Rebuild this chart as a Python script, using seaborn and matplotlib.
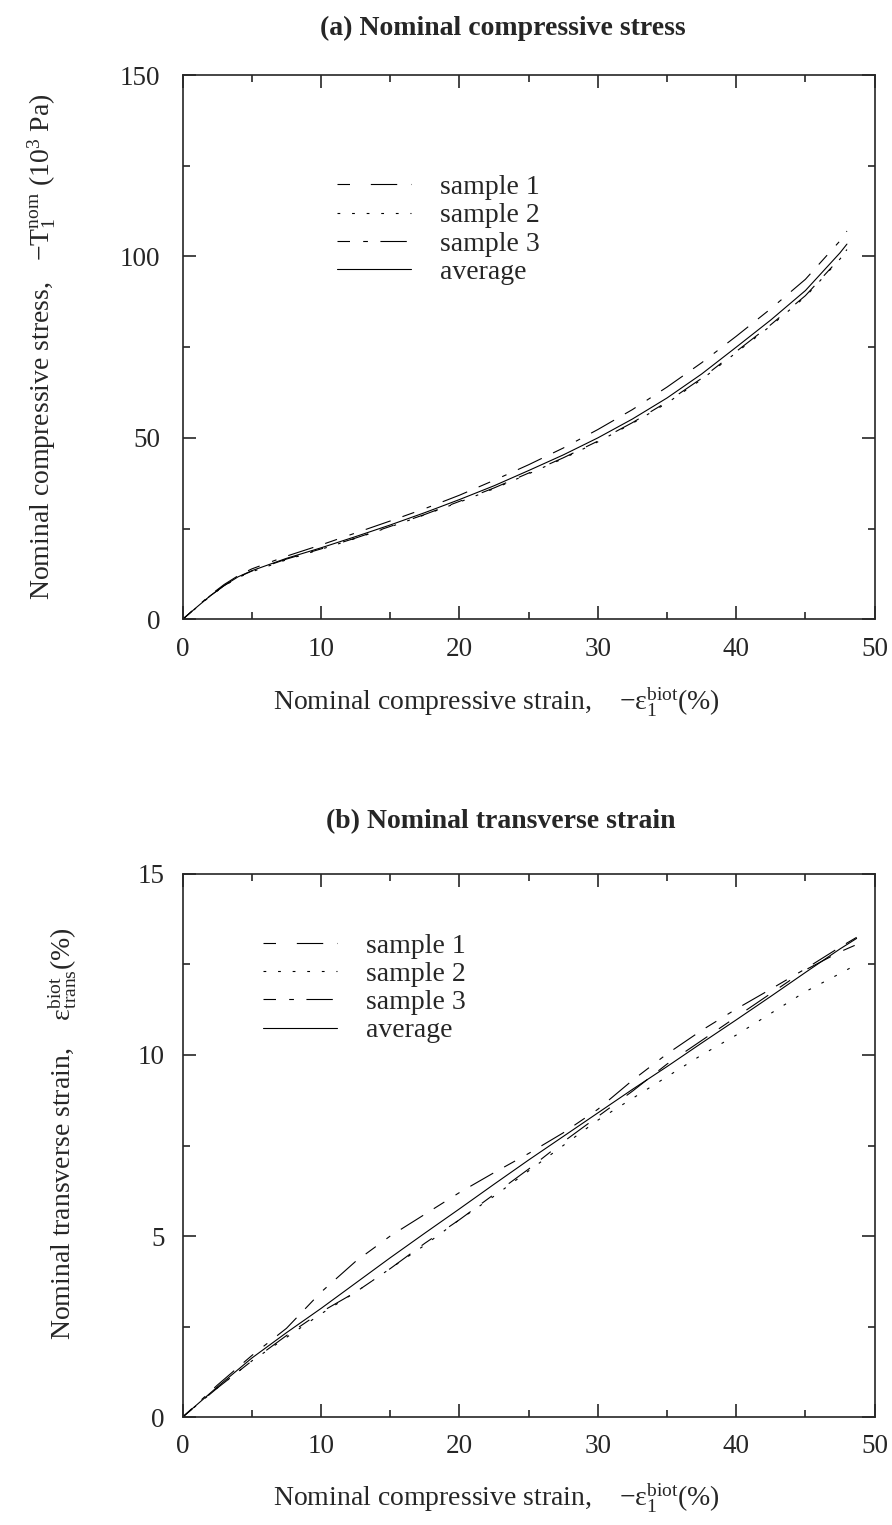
import numpy as np
import pandas as pd
import seaborn as sns
import matplotlib
matplotlib.use("Agg")
import matplotlib.pyplot as plt
from matplotlib.ticker import MultipleLocator

# (a) nominal compressive stress vs strain
strain_a = [0, 1, 2, 3, 4, 5, 7.5, 10, 12.5, 15, 17.5, 20, 22.5, 25, 27.5, 30,
            32.5, 35, 37.5, 40, 42.5, 45, 47.5, 48]
stress_s1 = [0, 3.3, 6.5, 9.3, 11.6, 13.3, 16.6, 19.4, 22.4, 25.6, 28.9, 32.5, 36.2,
             40.3, 44.5, 49.1, 54.2, 59.9, 66.4, 73.8, 81.2, 89.2, 99.5, 101.9]
stress_s2 = [0, 3.2, 6.4, 9.2, 11.5, 13.1, 16.4, 19.3, 22.3, 25.5, 28.8, 32.3, 36.0,
             40.1, 44.3, 48.9, 54.0, 59.6, 66.1, 73.5, 80.9, 88.9, 99.3, 101.7]
stress_s3 = [0, 3.4, 6.7, 9.6, 12.0, 13.9, 17.4, 20.5, 23.8, 27.1, 30.5, 34.2, 38.3,
             42.6, 47.2, 52.3, 57.8, 64.0, 70.7, 78.0, 85.6, 93.7, 104.3, 107.0]
stress_avg = [0, 3.3, 6.5, 9.3, 11.7, 13.4, 16.8, 19.7, 22.8, 26.0, 29.4, 33.0, 36.8,
              41.0, 45.3, 50.0, 55.2, 61.0, 67.6, 75.0, 82.5, 90.6, 101.0, 103.4]

# (b) nominal transverse strain vs compressive strain
strain_b = [0, 2.5, 5, 7.5, 10, 12.5, 15, 17.5, 20, 22.5, 25, 27.5, 30, 32.5, 35,
            37.5, 40, 42.5, 45, 47.5, 48.7]
trans_s1 = [0, 0.8, 1.55, 2.25, 2.9, 3.45, 4.1, 4.8, 5.45, 6.15, 6.85, 7.6, 8.3, 9.0,
            9.75, 10.4, 11.05, 11.7, 12.35, 12.85, 13.05]
trans_s2 = [0, 0.8, 1.55, 2.2, 2.85, 3.45, 4.1, 4.75, 5.45, 6.1, 6.8, 7.5, 8.2, 8.8,
            9.4, 10.0, 10.55, 11.15, 11.75, 12.25, 12.5]
trans_s3 = [0, 0.88, 1.7, 2.45, 3.45, 4.3, 5.0, 5.6, 6.2, 6.75, 7.28, 7.85, 8.5,
            9.3, 10.03, 10.68, 11.27, 11.82, 12.38, 12.98, 13.25]
trans_avg = [0, 0.83, 1.63, 2.33, 3.0, 3.7, 4.4, 5.08, 5.75, 6.43, 7.1, 7.75, 8.4,
             9.05, 9.68, 10.33, 10.97, 11.62, 12.28, 12.93, 13.22]

labels = ["sample 1", "sample 2", "sample 3", "average"]
styles = [(0, (9, 15, 19, 10)),
          (0, (2, 8.5)),
          (0, (9, 9.5, 3.4, 9, 19, 9)),
          "-"]

sns.set_style("ticks")
plt.rcParams["font.family"] = ["Liberation Serif", "DejaVu Serif"]
plt.rcParams["mathtext.fontset"] = "custom"
plt.rcParams["mathtext.rm"] = "Liberation Serif"
plt.rcParams["mathtext.it"] = "Liberation Serif"
plt.rcParams["mathtext.default"] = "regular"
plt.rcParams["lines.scale_dashes"] = False

fig = plt.figure(figsize=(8.92, 15.25), dpi=100)
ax_a = fig.add_axes([0.2048, 0.5939, 0.7757, 0.3569])
ax_b = fig.add_axes([0.2048, 0.0708, 0.7757, 0.3561])


def draw(ax, x, series, legend_anchor):
    for y, lab, ls in zip(series, labels, styles):
        df = pd.DataFrame({"x": x, "y": y})
        sns.lineplot(data=df, x="x", y="y", ax=ax, color="black", lw=0.8,
                     linestyle=ls, label=lab, estimator=None, sort=False)
    ax.legend(loc="upper left", bbox_to_anchor=legend_anchor, frameon=False,
              fontsize=20, handlelength=2.65, handletextpad=1.05,
              labelspacing=0.1, borderpad=0, borderaxespad=0)
    ax.set_xlim(0, 50)
    ax.xaxis.set_major_locator(MultipleLocator(10))
    ax.xaxis.set_minor_locator(MultipleLocator(5))
    ax.tick_params(which="both", direction="in", top=True, right=True,
                   labelsize=19.5, width=1.2)
    ax.tick_params(which="major", length=9.5)
    ax.tick_params(which="minor", length=4.8)
    ax.tick_params(axis="x", pad=12.5)
    ax.set_xlabel("")
    ax.set_ylabel("")
    for sp in ax.spines.values():
        sp.set_linewidth(1.2)


draw(ax_a, strain_a, [stress_s1, stress_s2, stress_s3, stress_avg], (0.223, 0.817))
ax_a.set_ylim(0, 150)
ax_a.yaxis.set_major_locator(MultipleLocator(50))
ax_a.yaxis.set_minor_locator(MultipleLocator(25))
ax_a.tick_params(axis="y", pad=16)

draw(ax_b, strain_b, [trans_s1, trans_s2, trans_s3, trans_avg], (0.116, 0.891))
ax_b.set_ylim(0, 15)
ax_b.yaxis.set_major_locator(MultipleLocator(5))
ax_b.yaxis.set_minor_locator(MultipleLocator(2.5))
ax_b.tick_params(axis="y", pad=13)

fig.text(0.564, 0.9816, "(a) Nominal compressive stress", ha="center", va="center",
         fontsize=20, fontweight="bold")
fig.text(0.561, 0.461, "(b) Nominal transverse strain", ha="center", va="center",
         fontsize=20, fontweight="bold")

xlab = r"Nominal compressive strain,    $-\varepsilon_1^{biot}$(%)"
fig.text(0.556, 0.5397, xlab, ha="center", va="center", fontsize=20)
fig.text(0.556, 0.0175, xlab, ha="center", va="center", fontsize=20)

fig.text(0.046, 0.7725, r"Nominal compressive stress,   $-T_1^{nom}$ (10$^3$ Pa)",
         ha="center", va="center", rotation=90, fontsize=20)
fig.text(0.07, 0.2564, r"Nominal transverse strain,    $\varepsilon_{trans}^{biot}$(%)",
         ha="center", va="center", rotation=90, fontsize=20)

fig.savefig("out.png", dpi=100, facecolor="white")
